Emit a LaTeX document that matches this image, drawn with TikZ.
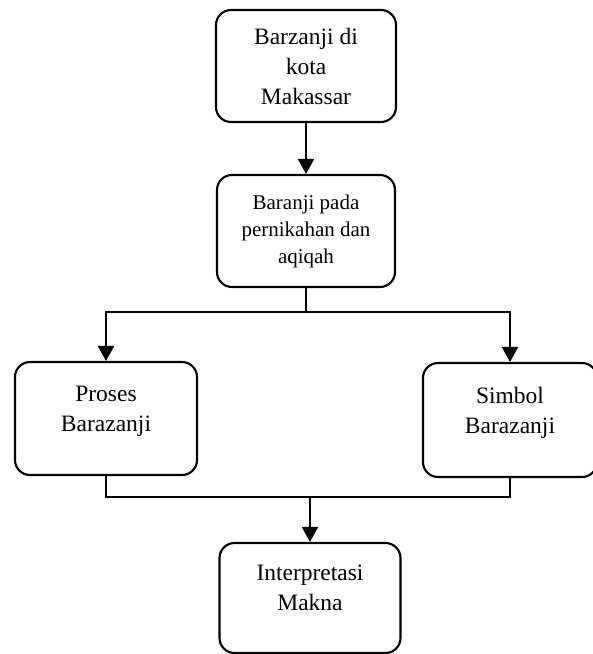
\documentclass[tikz,border=0pt]{standalone}
\usepackage{fontspec}
\setmainfont{Liberation Serif}
\usetikzlibrary{positioning}
\usetikzlibrary{arrows.meta}
\tikzset{
    stage/.style = {rectangle, rounded corners=15pt, line width=2.1pt, draw=black, align=center, font=\fontsize{23.5}{30}\selectfont},
    stagelbl/.style = {align=center, font=\fontsize{23.5}{30}\selectfont, yshift=7pt},
    edgen/.style = {-{Triangle[length=15pt,width=16pt]}, line width=2.1pt},
    linkn/.style = {line width=2.1pt}
}
\begin{document}
\begin{tikzpicture}[x=1pt,y=-1pt]
  \useasboundingbox (0,0) rectangle (593,654);

  \node[stage, minimum width=180pt, minimum height=112pt] (kota) at (306,66) {Barzanji di\\kota\\Makassar};
  \node[stage, minimum width=178pt, minimum height=112pt, font=\fontsize{21}{27}\selectfont] (nikah) at (306,231) {Baranji pada\\pernikahan dan\\aqiqah};
  \node[stage, minimum width=182pt, minimum height=113pt, label={[name=prosesl, stagelbl]center:Proses\\Barazanji}] (proses) at (106,418.5) {};
  \node[stage, minimum width=174pt, minimum height=114pt, label={[name=simboll, stagelbl]center:Simbol\\Barazanji}] (simbol) at (510,420) {};
  \node[stage, minimum width=181pt, minimum height=110pt, label={[name=maknal, stagelbl, yshift=3pt]center:Interpretasi\\Makna}] (makna) at (310,598) {};

  % split
  \coordinate (split) at (306,312);
  \coordinate (join) at (310,497);

  \draw[edgen] (kota) -- (nikah);
  \draw[linkn] (nikah.south) -- (split);
  \draw[edgen] (split) -| (proses.north);
  \draw[edgen] (split) -| (simbol.north);
  \draw[linkn] (proses.south) |- (join);
  \draw[linkn] (simbol.south) |- (join);
  \draw[edgen] (join) -- (makna.north);
\end{tikzpicture}
\end{document}
